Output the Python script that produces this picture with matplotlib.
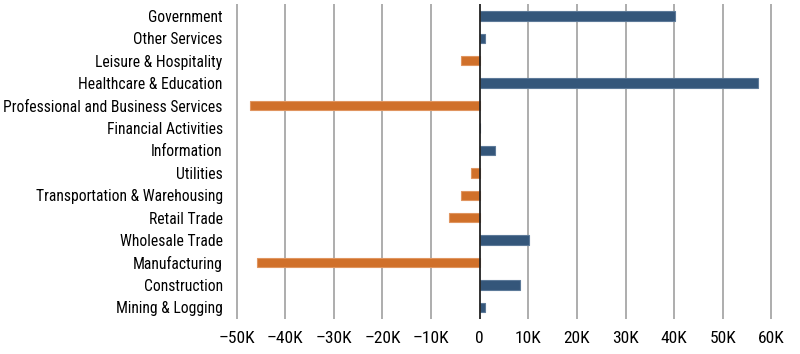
import numpy as np
import matplotlib.pyplot as plt
from matplotlib import font_manager

sectors = ["Government", "Other Services", "Leisure & Hospitality", "Healthcare & Education",
           "Professional and Business Services", "Financial Activities", "Information", "Utilities",
           "Transportation & Warehousing", "Retail Trade", "Wholesale Trade", "Manufacturing",
           "Construction", "Mining & Logging"]
changes = [40.1, 1.1, -3.9, 57.3, -47.2, 0.0, 3.2, -1.8, -3.9, -6.4, 10.2, -45.9, 8.2, 1.1]  # thousands
xticks = [-50, -40, -30, -20, -10, 0, 10, 20, 30, 40, 50, 60]
xticklabels = ["\u201350K", "\u201340K", "\u201330K", "\u201320K", "\u201310K", "0",
               "10K", "20K", "30K", "40K", "50K", "60K"]

names = {f.name for f in font_manager.fontManager.ttflist}
fam = "Roboto Condensed" if "Roboto Condensed" in names else "Roboto"
plt.rcParams['font.family'] = [fam, 'DejaVu Sans']

fig = plt.figure(figsize=(8, 3.54), dpi=100)
ax = fig.add_axes([0.294, 0.1, 0.672, 0.89])

y = np.arange(len(sectors))
colors = ["#34567a" if v >= 0 else "#d0702a" for v in changes]
edges = ["#5d7a99" if v >= 0 else "#e09560" for v in changes]
ax.barh(y, changes, height=0.42, color=colors, edgecolor=edges, linewidth=0.8, zorder=3)

ax.set_ylim(len(sectors) - 0.5, -0.55)
ax.set_xlim(-50.3, 60.3)
ax.set_xticks(xticks)
ax.set_xticklabels(xticklabels, fontsize=12.5)
ax.set_yticks(y)
ax.set_yticklabels(sectors, fontsize=11.5)
ax.tick_params(length=0, pad=9)
ax.tick_params(axis='x', pad=9)

# shrink the category labels if the longest one would run off the left edge
r = fig.canvas.get_renderer()
widest = max(t.get_window_extent(r).width for t in ax.get_yticklabels())
room = 235 - 9 - 6
if widest > room:
    for t in ax.get_yticklabels():
        t.set_fontsize(11.5 * room / widest)

for x in xticks:
    if x != 0:
        ax.axvline(x, color="#a0a0a0", lw=1.2, zorder=1)
ax.axvline(0, color="#222222", lw=1.3, zorder=4)
for s in ax.spines.values():
    s.set_visible(False)

fig.savefig("out.png", dpi=100)
